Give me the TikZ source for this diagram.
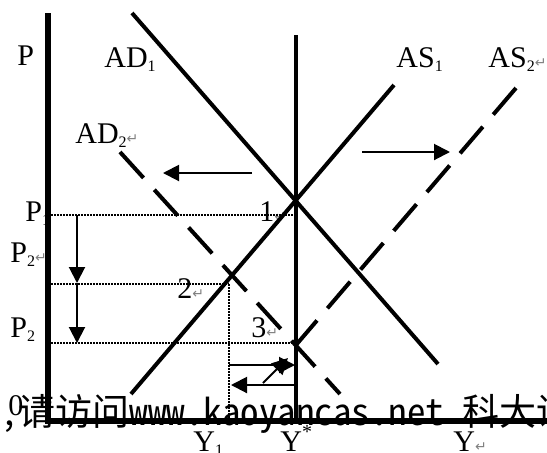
\documentclass[tikz,border=0pt]{standalone}
\usepackage{fontspec}
\setmainfont{Liberation Serif}
\newfontfamily\wmfont{Noto Sans CJK SC}[RawFeature=+hwid]
\newfontfamily\symfont{DejaVu Sans}
\usepackage{tikz}
\usetikzlibrary{arrows.meta}
\newcommand{\lidx}[1]{\raisebox{-0.3ex}{\fontsize{8}{8}\selectfont #1}}
\newcommand{\retmark}{{\symfont\fontsize{7}{7}\selectfont\textcolor{gray}{↵}}}

\begin{document}
\begin{tikzpicture}[x=0.5pt, y=-0.5pt, >={Triangle[length=8pt,width=8pt]},
    lab/.style={inner sep=0pt, anchor=base west, font=\fontsize{15}{15}\selectfont},
    curve/.style={line width=2pt},
    shifted/.style={line width=2pt, dash pattern=on 17.5pt off 8pt},
    guide/.style={line width=0.75pt, dash pattern=on 0.75pt off 0.75pt},
    axis/.style={line width=3pt},
    move/.style={->, line width=1pt}]
    \useasboundingbox (0,0) rectangle (547,452);
    \clip (0,0) rectangle (547,452);

    % 水印
    \node[inner sep=0pt, anchor=base west, font=\wmfont\fontsize{18.5}{18.5}\selectfont] (wm) at (0,425)
        {，请访问www.kaoyancas.net\hspace{0.5em}科大讯};

    % 坐标点
    \coordinate (Ptop) at (48,13);
    \coordinate (Pbot) at (48,424);
    \coordinate (Xbeg) at (45,421);
    \coordinate (Xend) at (547,421);
    \coordinate (Ytop) at (296,35);
    \coordinate (Ybot) at (296,421);
    \coordinate (E1) at (296,200);
    \coordinate (E2) at (232,275);
    \coordinate (E3) at (296,345);
    \coordinate (ad1a) at (132,13);
    \coordinate (ad1b) at (438,364);
    \coordinate (as1a) at (131,394);
    \coordinate (as1b) at (394,85);
    \coordinate (ad2a) at (120,152);
    \coordinate (ad2b) at (340,394);
    \coordinate (as2b) at (516,88);

    % 标签
    \node[lab] (lP)   at (17,65)  {P};
    \node[lab] (lAD1) at (104,67) {AD\lidx{1}};
    \node[lab] (lAD2) at (75,143) {AD\lidx{2}\retmark};
    \node[lab] (lAS1) at (396,67) {AS\lidx{1}};
    \node[lab] (lAS2) at (488,67) {AS\lidx{2}\retmark};
    \node[lab] (lP1)  at (25,221) {P\lidx{1}};
    \node[lab] (lP2a) at (10,262) {P\lidx{2}\retmark};
    \node[lab] (lP2b) at (10,337) {P\lidx{2}};
    \node[lab] (l0)   at (8,415)  {0};
    \node[lab] (n1)   at (259,221) {1\retmark};
    \node[lab] (n2)   at (177,298) {2\retmark};
    \node[lab] (n3)   at (251,337) {3\retmark};
    \node[lab] (lY1)  at (193,451) {Y\lidx{1}};
    \node[lab] (lYs)  at (280,451) {Y\raisebox{0.9ex}{\fontsize{10}{10}\selectfont *}};
    \node[lab] (lY)   at (453,451) {Y\retmark};

    % 虚线
    \draw[guide] (48,215) -- (296,215);
    \draw[guide] (48,284) -- (229,284);
    \draw[guide] (48,343) -- (296,343);
    \draw[guide] (229,284) -- (229,421);

    % 坐标轴
    \draw[axis] (Ptop) -- (Pbot);
    \draw[axis] (Xbeg) -- (Xend);
    \draw[curve] (Ytop) -- (Ybot);

    % 曲线
    \draw[curve] (ad1a) -- (ad1b);
    \draw[curve] (as1a) -- (as1b);
    \draw[shifted] (ad2a) -- (ad2b);
    \draw[shifted] (as2b) -- (E3);

    % 箭头
    \draw[move] (252,173) -- (163,173);
    \draw[move] (362,152) -- (450,152);
    \draw[move] (77,215) -- (77,283);
    \draw[move] (77,283) -- (77,343);
    \draw[move] (229,365) -- (295,365);
    \draw[move] (263,383) -- (288,358);
    \draw[move] (296,385) -- (231,385);
\end{tikzpicture}
\end{document}
